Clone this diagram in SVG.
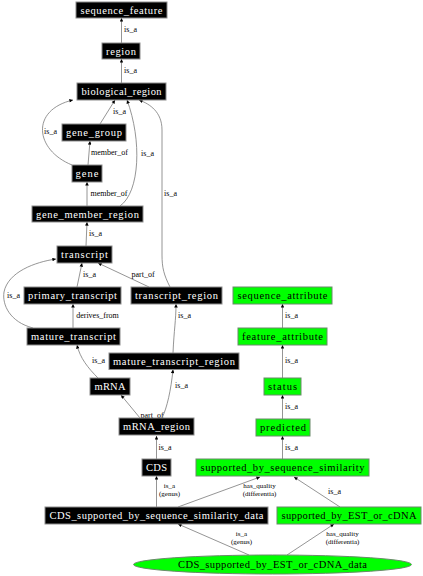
<svg xmlns="http://www.w3.org/2000/svg" width="423" height="576" viewBox="0 0 423 576">
<style>
.nb rect{fill:#000;stroke:#8c8c8c;stroke-width:1}
.ng rect,.ng ellipse{fill:#00ff00;stroke:#6a8a6a;stroke-width:1}
.nb text{fill:#fff;font-family:"Liberation Serif",serif;font-size:10.5px;text-anchor:middle}
.ng text{fill:#000;font-family:"Liberation Serif",serif;font-size:10.5px;text-anchor:middle}
#edges path{fill:none;stroke:#7a7a7a;stroke-width:0.8;marker-end:url(#ah)}
#edges text{fill:#000;font-family:"Liberation Serif",serif;font-size:8px;text-anchor:middle}
#edges text.two{font-size:7px}
</style>
<defs>
<marker id="ah" viewBox="0 0 10 10" refX="10" refY="5" markerWidth="5" markerHeight="3.6" markerUnits="userSpaceOnUse" orient="auto">
<path d="M0,0 L10,5 L0,10 z" fill="#000"/>
</marker>
</defs>
<rect width="423" height="576" fill="#fff"/>
<g id="edges">
<path d="M121.5,43 L121.5,18"/><text x="130.5" y="32">is_a</text>
<path d="M121.5,83 L121.5,59"/><text x="130.5" y="73">is_a</text>
<path d="M100,124 L115,100"/><text x="119.5" y="114">is_a</text>
<path d="M72,165 C35,150 30,110 73,100"/><text x="50.5" y="134">is_a</text>
<path d="M88,165 L90,141"/><text x="109.5" y="155">member_of</text>
<path d="M87,206 L87,182"/><text x="109" y="196">member_of</text>
<path d="M120,206 C140,192 142,140 127,100"/><text x="147.5" y="155.5">is_a</text>
<path d="M170,287 C164,275 162,268 162,255 L162,130 C162,112 150,104 139,100"/><text x="170.5" y="196">is_a</text>
<path d="M86,246 L87,222"/><text x="95.5" y="236">is_a</text>
<path d="M77,287 L82,263"/><text x="89.5" y="277">is_a</text>
<path d="M33,328 C10,322 2,305 4,292 C8,272 35,262 56,259"/><text x="13.5" y="298">is_a</text>
<path d="M149,287 L98,263"/><text x="143" y="277">part_of</text>
<path d="M73,328 L73,304"/><text x="97.5" y="318">derives_from</text>
<path d="M173,353 C174,330 176,320 176,304"/><text x="184.5" y="318">is_a</text>
<path d="M98,378 C88,368 80,358 77,345"/><text x="98.5" y="363">is_a</text>
<path d="M140,418 L121,395"/><text x="152" y="417.5">part_of</text>
<path d="M162,418 C167,408 171,390 173,369.5"/><text x="181.5" y="387.5">is_a</text>
<path d="M156.5,459 L156.5,436"/><text x="165" y="450">is_a</text>
<path d="M156.5,507 L156.5,476"/><text class="two" x="169.5" y="487.5">is_a<tspan x="169.5" dy="8.3">(genus)</tspan></text>
<path d="M178,507 L260,477"/><text class="two" x="259.5" y="487.5">has_quality<tspan x="259.5" dy="8.3">(differentia)</tspan></text>
<path d="M340,507 L294,477"/><text x="334.5" y="493.5">is_a</text>
<path d="M249,555 L178,524"/><text class="two" x="241.5" y="535.5">is_a<tspan x="241.5" dy="8.3">(genus)</tspan></text>
<path d="M287,555 L334,524"/><text class="two" x="342.5" y="535.5">has_quality<tspan x="342.5" dy="8.3">(differentia)</tspan></text>
<path d="M282.5,328 L282.5,304"/><text x="291.5" y="318">is_a</text>
<path d="M282.5,378 L282.5,345"/><text x="291.5" y="362.5">is_a</text>
<path d="M282.5,419 L282.5,395"/><text x="291.5" y="409">is_a</text>
<path d="M282.5,459 L282.5,436"/><text x="291.5" y="450">is_a</text>
</g>
<g id="sequence_feature" class="nb"><rect x="76" y="2" width="91" height="16"/><text x="121.5" y="13.5" textLength="82" lengthAdjust="spacing">sequence_feature</text></g>
<g id="region" class="nb"><rect x="102" y="43" width="38" height="16"/><text x="121" y="54.5" textLength="30" lengthAdjust="spacing">region</text></g>
<g id="biological_region" class="nb"><rect x="77" y="83" width="89" height="17"/><text x="121.5" y="95" textLength="80" lengthAdjust="spacing">biological_region</text></g>
<g id="gene_group" class="nb"><rect x="62" y="124" width="64" height="17"/><text x="94" y="136" textLength="56" lengthAdjust="spacing">gene_group</text></g>
<g id="gene" class="nb"><rect x="72" y="165" width="30" height="17"/><text x="87" y="177" textLength="23" lengthAdjust="spacing">gene</text></g>
<g id="gene_member_region" class="nb"><rect x="32" y="206" width="111" height="16"/><text x="87.5" y="217.5" textLength="103" lengthAdjust="spacing">gene_member_region</text></g>
<g id="transcript" class="nb"><rect x="57" y="246" width="55" height="17"/><text x="84.5" y="258" textLength="47" lengthAdjust="spacing">transcript</text></g>
<g id="primary_transcript" class="nb"><rect x="24" y="287" width="97" height="17"/><text x="72.5" y="299" textLength="89" lengthAdjust="spacing">primary_transcript</text></g>
<g id="transcript_region" class="nb"><rect x="131" y="287" width="91" height="17"/><text x="176.5" y="299" textLength="83" lengthAdjust="spacing">transcript_region</text></g>
<g id="mature_transcript" class="nb"><rect x="27" y="328" width="93" height="17"/><text x="73.5" y="340" textLength="85" lengthAdjust="spacing">mature_transcript</text></g>
<g id="mature_transcript_region" class="nb"><rect x="109" y="353" width="130" height="16.5"/><text x="174" y="364.8" textLength="122" lengthAdjust="spacing">mature_transcript_region</text></g>
<g id="mRNA" class="nb"><rect x="90" y="378" width="40" height="17"/><text x="110" y="390" textLength="31" lengthAdjust="spacing">mRNA</text></g>
<g id="mRNA_region" class="nb"><rect x="119" y="418" width="75" height="17"/><text x="156.5" y="430" textLength="67" lengthAdjust="spacing">mRNA_region</text></g>
<g id="CDS" class="nb"><rect x="142" y="459" width="29" height="17"/><text x="156.5" y="471" textLength="21" lengthAdjust="spacing">CDS</text></g>
<g id="CDS_supported_by_sequence_similarity_data" class="nb"><rect x="45" y="507" width="223" height="17"/><text x="156.5" y="519" textLength="214" lengthAdjust="spacing">CDS_supported_by_sequence_similarity_data</text></g>
<g id="sequence_attribute" class="ng"><rect x="233" y="287" width="99" height="17"/><text x="282.5" y="299" textLength="90" lengthAdjust="spacing">sequence_attribute</text></g>
<g id="feature_attribute" class="ng"><rect x="238" y="328" width="89" height="17"/><text x="282.5" y="340" textLength="81" lengthAdjust="spacing">feature_attribute</text></g>
<g id="status" class="ng"><rect x="264" y="378" width="37" height="17"/><text x="282.5" y="390" textLength="29" lengthAdjust="spacing">status</text></g>
<g id="predicted" class="ng"><rect x="256" y="419" width="54" height="17"/><text x="283" y="431" textLength="46" lengthAdjust="spacing">predicted</text></g>
<g id="supported_by_sequence_similarity" class="ng"><rect x="196" y="459" width="173" height="17"/><text x="282.5" y="471" textLength="164" lengthAdjust="spacing">supported_by_sequence_similarity</text></g>
<g id="supported_by_EST_or_cDNA" class="ng"><rect x="277" y="507" width="144" height="17"/><text x="349" y="519" textLength="135" lengthAdjust="spacing">supported_by_EST_or_cDNA</text></g>
<g id="CDS_supported_by_EST_or_cDNA_data" class="ng"><ellipse cx="272.5" cy="564.5" rx="139" ry="9.5"/><text x="272.5" y="568" textLength="189" lengthAdjust="spacing">CDS_supported_by_EST_or_cDNA_data</text></g>
</svg>
